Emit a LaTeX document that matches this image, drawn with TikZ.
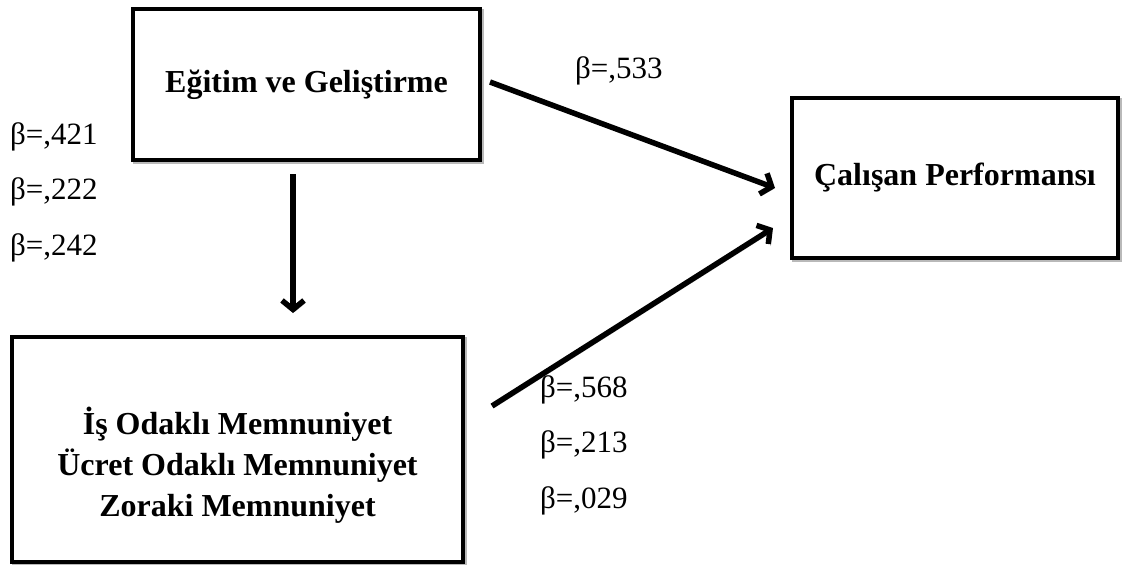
\documentclass[tikz,border=0pt]{standalone}
\usepackage{fontspec}
\setmainfont{Liberation Serif}
\usepackage{tikz}
\usetikzlibrary{arrows.meta, positioning}

\tikzset{
  shade off/.style={preaction={draw=gray!55, transform canvas={xshift=2pt, yshift=-2pt}}},
  varbox/.style={rectangle, draw, line width=4pt, fill=white, align=center, inner sep=0pt,
    font=\fontsize{32}{41}\selectfont\bfseries, shade off},
  path arrow/.style={line width=5.5pt, -{Straight Barb[length=9pt, width=22pt]}, shade off},
  beta/.style={anchor=base west, inner sep=0pt, font=\fontsize{31}{36}\selectfont},
}

\begin{document}
\begin{tikzpicture}[x=1pt, y=-1pt]
    \useasboundingbox (0,0) rectangle (1122,565);

    % Variables
    \node[varbox, minimum width=347pt, minimum height=151pt] (egitim) at (306.5,84.5) {E\u{g}itim ve Geli\c{s}tirme};
    \node[varbox, minimum width=326pt, minimum height=160pt] (perf) at (955,178) {\c{C}al{\i}\c{s}an Performans{\i}};
    \node[varbox, minimum width=451pt, minimum height=225pt] (memnun) at (237.5,449.5)
        {\rule{0pt}{58pt}\.I\c{s} Odakl{\i} Memnuniyet\\\"Ucret Odakl{\i} Memnuniyet\\Zoraki Memnuniyet};

    % Paths
    \draw[path arrow] ([xshift=-13.5pt, yshift=-12pt]egitim.south) -- ([xshift=55.5pt, yshift=22pt]memnun.north);
    \draw[path arrow] ([xshift=8pt, yshift=2.5pt]egitim.east) -- ([xshift=-15pt, yshift=-10pt]perf.west);
    \draw[path arrow] ([xshift=27pt, yshift=43.5pt]memnun.east) -- ([xshift=-17pt, yshift=-50pt]perf.west);

    % Coefficients
    \node[beta] (b533) at (575,78) {β=,533};
    \node[beta] (b421) at (10,144) {β=,421};
    \node[beta] (b222) at ([yshift=-55.5pt]b421.base west) {β=,222};
    \node[beta] (b242) at ([yshift=-55.5pt]b222.base west) {β=,242};
    \node[beta] (b568) at (540,397) {β=,568};
    \node[beta] (b213) at ([yshift=-55.5pt]b568.base west) {β=,213};
    \node[beta] (b029) at ([yshift=-55.5pt]b213.base west) {β=,029};
\end{tikzpicture}
\end{document}
